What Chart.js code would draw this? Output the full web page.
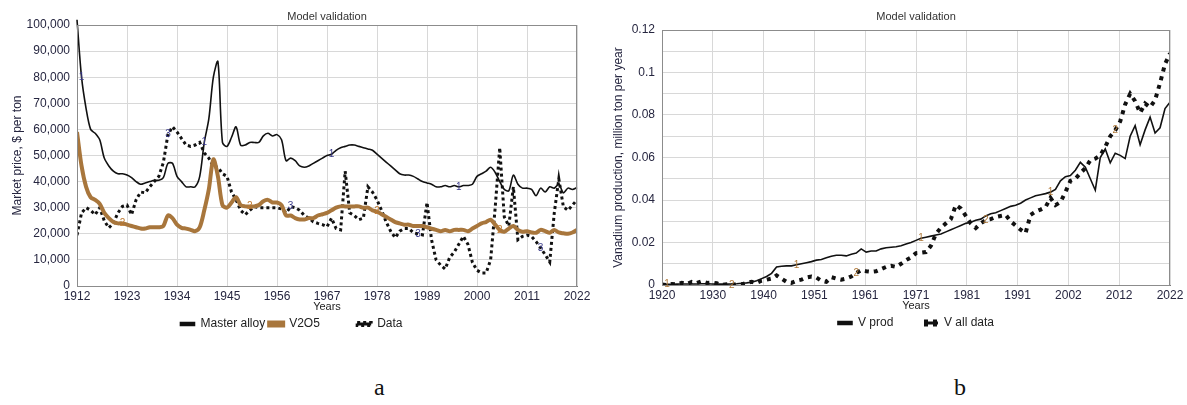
<!DOCTYPE html>
<html>
<head>
<meta charset="utf-8">
<script src="https://cdn.jsdelivr.net/npm/chart.js@4.4.0/dist/chart.umd.min.js"></script>
<style>
body{margin:0;background:#fff;width:1187px;height:405px;position:relative;overflow:hidden}
#wrapA{position:absolute;left:0;top:0;width:595px;height:340px}
#wrapB{position:absolute;left:600px;top:0;width:587px;height:340px}
.tag{position:absolute;top:374px;font-family:"Liberation Serif","Times New Roman",serif;font-size:24px;color:#111}
</style>
</head>
<body>
<div id="wrapA"><canvas id="chartA"></canvas></div>
<div id="wrapB"><canvas id="chartB"></canvas></div>
<div class="tag" style="left:374px">a</div>
<div class="tag" style="left:954px">b</div>
<script>
// panel a: market price, $ per ton, one value per year from 1912
const priceStart = 1912
const masterAlloy = [
102000,80000,68000,60000,58500,56000,49000,46000,44000,43000,
43000,42500,41500,40000,39000,39500,40000,40500,40500,41500,
47000,47000,42000,40000,38000,38000,38000,42000,55000,64000,
80000,86000,55000,53500,57000,61000,54000,54000,55000,55000,
55000,57500,58500,57500,58000,56000,48000,49000,48000,46000,
45500,46000,47000,48000,49000,50000,50500,52000,53000,53500,
54000,54000,53500,53000,52500,52000,50500,49000,47500,46000,
44500,43000,42500,42500,42000,41000,40000,39500,39000,38000,
38000,38500,38000,38500,38000,38500,38500,39000,42000,43000,
44000,45500,43500,40000,37000,36500,42500,39000,37500,37500,
37000,34600,37500,36000,38000,37500,39000,35700,37500,37000,
37700]
const v2o5 = [
59000,46000,38000,34000,33000,31500,28000,26000,24500,24000,
24000,23500,23000,22500,22000,22000,22500,22500,22500,23000,
27000,26000,23500,22300,22000,21500,21000,22500,29000,37000,
48500,42000,31000,30000,32000,34000,31000,30500,30500,30500,
31000,32500,33000,32000,32000,31000,27000,27000,26000,25500,
25500,26000,26000,27000,27500,28000,29000,30000,30500,30500,
30500,30500,30500,30000,30000,29000,28500,27500,26500,25500,
24500,24000,23500,23500,23000,23000,23000,22500,22000,21500,
21000,21500,21000,21500,21500,21500,21000,22000,23000,24000,
24500,25400,23500,21500,20800,22000,23000,21500,20800,21000,
20500,20400,21500,21000,20400,21500,20500,20200,20000,20500,
21500]
const priceData = [
19500,28000,30000,29000,27300,30000,25000,22300,24000,28000,
30500,31000,27300,33000,36000,35700,38000,40000,42000,47300,
58000,61000,59000,56500,54000,53500,54000,55000,51000,49000,
45800,45500,43000,42000,36000,33000,29000,27300,29000,30400,
30000,30000,30000,30000,30000,29500,28000,30400,30000,29000,
27000,26000,24600,24000,23500,22700,26000,22000,21500,44000,
28000,27000,25400,26000,38000,36000,33000,29000,24600,21000,
18500,21000,22000,22000,20400,20000,19600,32000,17700,10000,
8000,6500,11000,13000,16000,19000,16000,9000,6000,5000,
5000,10000,30000,53000,26500,23000,38000,17700,19000,19500,
19000,17000,14600,12000,9200,28000,41000,30400,29000,31000,
33000]
// years where the small series numbers sit on the lines
const markYearsA = [[1913,1940,1968,1996],[1922,1950,1978,2005],[1932,1959,1987,2014]]

// panel b: vanadium production, million ton per year, from 1920
const prodStart = 1920
const vProd = [
0.0005,0.0003,0.0003,0.0004,0.0005,0.0005,0.0005,0.0005,0.0006,0.0006,
0.0005,0.0004,0.0004,0.0004,0.0005,0.0006,0.0008,0.001,0.0013,0.002,
0.003,0.004,0.0055,0.0085,0.0088,0.009,0.009,0.0095,0.01,0.0105,
0.011,0.0117,0.012,0.0128,0.0135,0.014,0.014,0.0137,0.0145,0.015,
0.017,0.0155,0.016,0.016,0.017,0.0175,0.0178,0.018,0.0185,0.0193,
0.02,0.021,0.022,0.0225,0.023,0.0235,0.024,0.025,0.026,0.027,
0.028,0.029,0.0295,0.0305,0.031,0.0325,0.0335,0.034,0.035,0.036,
0.037,0.0375,0.0385,0.04,0.041,0.042,0.0425,0.043,0.0437,0.045,
0.049,0.051,0.0515,0.054,0.0577,0.0554,0.05,0.0446,0.06,0.064,
0.0575,0.062,0.061,0.0595,0.07,0.075,0.066,0.073,0.079,0.0715,
0.074,0.083,0.086]
const vAllData = [
0.0002,0,0.0005,0.0003,0.001,0.0005,0.0015,0.001,0.0018,0.001,
0.0012,0.0008,0,0.0003,0,0.0005,0.0003,0.001,0.0015,0.001,
0.002,0.0025,0.003,0.0045,0.003,0.0015,0.001,0.002,0.0025,0.0035,
0.004,0.0035,0.002,0.0015,0.0037,0.003,0.0025,0.003,0.004,0.0056,
0.007,0.0065,0.0062,0.0065,0.0075,0.0085,0.009,0.0085,0.01,0.0117,
0.013,0.015,0.0152,0.0155,0.0185,0.024,0.027,0.029,0.031,0.0376,
0.036,0.0325,0.029,0.0268,0.029,0.0305,0.031,0.032,0.0325,0.033,
0.03,0.028,0.026,0.0244,0.033,0.0345,0.0355,0.0366,0.041,0.0376,
0.039,0.0437,0.049,0.05,0.0526,0.055,0.0587,0.0595,0.061,0.065,
0.07,0.0728,0.077,0.085,0.09,0.0865,0.081,0.0854,0.0836,0.087,
0.095,0.104,0.109]
const markYearsB = [[1921,1947,1972,1998],[1934,1959,1985,2011]]

const brown = '#a8763c'
const inkColor = '#262640'
Chart.defaults.font.family = '"Liberation Sans", Arial, sans-serif'
Chart.defaults.color = inkColor
Chart.defaults.animation = false

function pts(startYear, values){
return values.map((v,i)=>({x:startYear+i,y:v}))
}

// title over the plot area and the grey frame round it
const panelFrame = {
id:'panelFrame',
afterDraw(chart, args, opts){
const {ctx, chartArea:a} = chart
ctx.save()
ctx.strokeStyle = '#8c8c8c'
ctx.lineWidth = 1
ctx.strokeRect(a.left+0.5, a.top+0.5, a.right-a.left-1, a.bottom-a.top)
ctx.font = '11px "Liberation Sans", Arial, sans-serif'
ctx.fillStyle = '#333'
ctx.textAlign = 'center'
ctx.textBaseline = 'middle'
ctx.fillText(opts.text, (a.left+a.right)/2, opts.y)
// series numbers, Vensim style
ctx.font = '10px "Liberation Sans", Arial, sans-serif'
const xs = chart.scales.x, ys = chart.scales.y
opts.marks.forEach((years, di)=>{
const ds = chart.data.datasets[di]
ctx.fillStyle = opts.markColors[di]
years.forEach(yr=>{
const p = ds.data.find(d=>d.x===yr)
if(p) ctx.fillText(String(di+1), xs.getPixelForValue(p.x), ys.getPixelForValue(p.y))
})
})
ctx.restore()
}
}

function legendOpts(fullSize, extra){
return {
position:'bottom',
fullSize:fullSize,
labels:{
boxWidth:14, boxHeight:3, padding:4, color:'#222',
font:{size:12},
generateLabels(chart){
const items = Chart.defaults.plugins.legend.labels.generateLabels(chart)
items.forEach((it,i)=>{ it.text = it.text + (extra[i] || '') })
return items
}
}
}
}

function xScale(min, max, step){
return {
type:'linear', min:min, max:max,
ticks:{stepSize:step, padding:3, maxRotation:0, autoSkip:false, font:{size:12},
callback:v=>String(Math.round(v))},
grid:{color:'#d8d8d8', drawTicks:false},
border:{color:'#7a7a7a'},
title:{display:true, text:'Years', font:{size:11}, color:'#222', padding:{top:0,bottom:0}},
afterFit(s){ s.height = 28 }
}
}

new Chart(document.getElementById('chartA'),{
type:'line',
data:{datasets:[
{label:'Master alloy', data:pts(priceStart, masterAlloy), borderColor:'#111', backgroundColor:'#111',
borderWidth:1.6, pointRadius:0, tension:0.3, clip:false},
{label:'V2O5', data:pts(priceStart, v2o5), borderColor:brown, backgroundColor:brown,
borderWidth:4, pointRadius:0, tension:0.3},
{label:'Data', data:pts(priceStart, priceData), borderColor:'#111', backgroundColor:'#111',
borderWidth:3, borderDash:[3,3], pointRadius:0, tension:0}
]},
options:{
responsive:true, maintainAspectRatio:false,
layout:{padding:{left:6, right:18, top:25, bottom:0}},
plugins:{
legend:legendOpts(true, ['', '          ', '']),
tooltip:{enabled:false},
panelFrame:{text:'Model validation', y:17, marks:markYearsA, markColors:['#3a3a8a','#c07a30','#3a3a8a']}
},
scales:{
x:xScale(1912, 2022, 11),
y:{min:0, max:100000,
ticks:{stepSize:10000, padding:7, font:{size:12}, callback:v=>v.toLocaleString('en-US')},
grid:{color:'#d8d8d8', drawTicks:false},
border:{color:'#7a7a7a'},
title:{display:true, text:'Market price, $ per ton', font:{size:12}, padding:{top:4,bottom:0}},
afterFit(s){ s.width = 71 }}
}
},
plugins:[panelFrame]
})

new Chart(document.getElementById('chartB'),{
type:'line',
data:{datasets:[
{label:'V prod', data:pts(prodStart, vProd), borderColor:'#111', backgroundColor:'#111',
borderWidth:1.6, pointRadius:0, tension:0},
{label:'V all data', data:pts(prodStart, vAllData), borderColor:'#111', backgroundColor:'#111',
borderWidth:4, borderDash:[4,5], pointRadius:0, tension:0}
]},
options:{
responsive:true, maintainAspectRatio:false,
layout:{padding:{left:7, right:17, top:30, bottom:1}},
plugins:{
legend:legendOpts(false, ['        ', '']),
tooltip:{enabled:false},
panelFrame:{text:'Model validation', y:17, marks:markYearsB, markColors:['#b07a3a','#b07a3a']}
},
scales:{
x:xScale(1920, 2022, 10.2),
y:{min:0, max:0.12,
ticks:{stepSize:0.01, padding:7, font:{size:12},
callback:(v,i)=> i%2===0 ? String(Math.round(v*100)/100) : ''},
grid:{color:'#d8d8d8', drawTicks:false},
border:{color:'#7a7a7a'},
title:{display:true, text:'Vanadium production, million ton per year', font:{size:12}, padding:{top:4,bottom:0}},
afterFit(s){ s.width = 55 }}
}
},
plugins:[panelFrame]
})
</script>
</body>
</html>
